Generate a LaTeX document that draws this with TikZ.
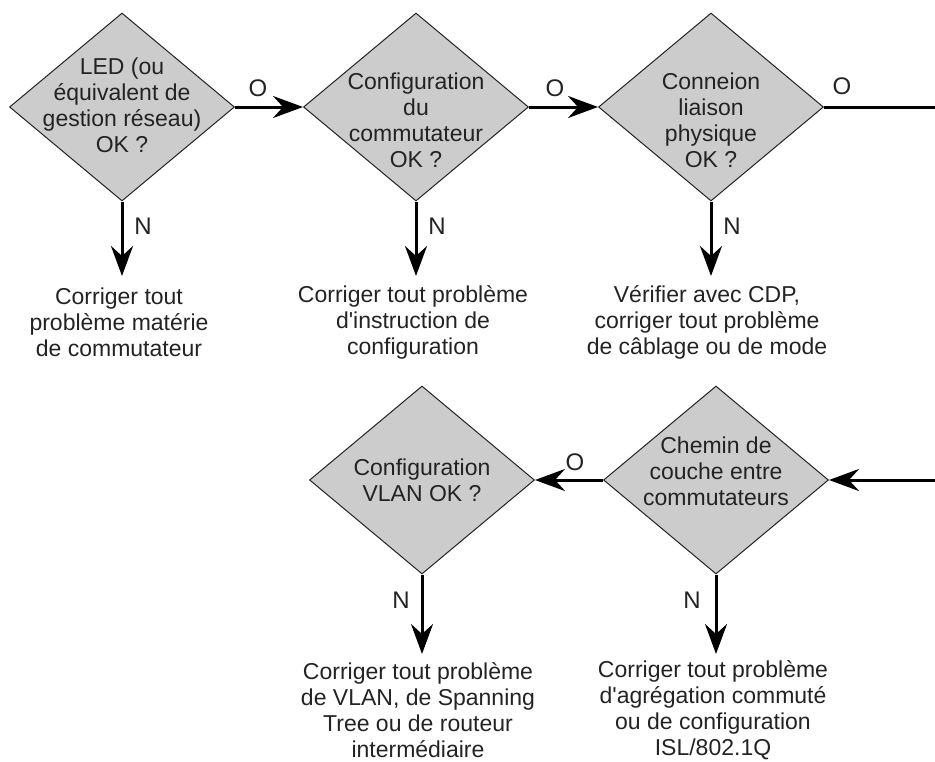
\documentclass[tikz,border=0pt]{standalone}
\usepackage{fontspec}
\setmainfont{Liberation Sans}[Ligatures=TeXOff]
\usetikzlibrary{shapes.geometric,arrows.meta}
\definecolor{dfill}{RGB}{204,204,204}
\definecolor{ink}{RGB}{35,35,35}
\begin{document}
\begin{tikzpicture}[x=1pt,y=-1pt,
  decision/.style={diamond, draw=ink, line width=1pt, fill=dfill,
    minimum width=225pt, minimum height=188pt, inner sep=0pt},
  txt/.style={font=\fontsize{23}{26}\selectfont, text=ink, align=center, inner sep=0pt},
  tag/.style={font=\fontsize{24}{26}\selectfont, text=ink, inner sep=0pt},
  flow/.style={line width=3pt, draw=black, -{Stealth[length=30pt,width=22pt,inset=10pt]}},
  plain/.style={line width=3pt, draw=black}]
\useasboundingbox (0,0) rectangle (935,761);

% decision diamonds, top row
\node[decision, label={[txt, yshift=2pt]center:LED (ou\\équivalent de\\gestion réseau)\\OK ?}] (d1) at (122,107) {};
\node[decision, label={[txt, yshift=-13pt]center:Configuration\\du\\commutateur\\OK ?}] (d2) at (416,107) {};
\node[decision, label={[txt, yshift=-13pt]center:Conneion\\liaison\\physique\\OK ?}] (d3) at (711,107) {};

% decision diamonds, bottom row
\node[decision, label={[txt]center:Configuration\\VLAN OK ?}] (d4) at (422,480) {};
\node[decision, label={[txt, yshift=9pt]center:Chemin de\\couche entre\\commutateurs}] (d5) at (716,480) {};

% corrective actions
\node[txt] (a1) at (119,322) {Corriger tout\\problème matérie\\de commutateur};
\node[txt] (a2) at (413,322) {Corriger tout problème\\d'instruction de\\configuration};
\node[txt] (a3) at (707,322) {Vérifier avec CDP,\\corriger tout problème\\de câblage ou de mode};
\node[txt] (a4) at (418,710) {Corriger tout problème\\de VLAN, de Spanning\\Tree ou de routeur\\intermédiaire};
\node[txt] (a5) at (713,710) {Corriger tout problème\\d'agrégation commuté\\ou de configuration\\ISL/802.1Q};

% arrow ends
\coordinate (n1) at (122,276);
\coordinate (n2) at (416,276);
\coordinate (n3) at (711,276);
\coordinate (n4) at (422,654);
\coordinate (n5) at (716,654);
\coordinate (edgeTop) at (935,107);
\coordinate (edgeBot) at (935,480);

% yes branches
\draw[flow] (d1.east) -- (d2.west);
\draw[flow] (d2.east) -- (d3.west);
\draw[plain] (d3.east) -- (edgeTop);
\draw[flow] (edgeBot) -- (d5.east);
\draw[flow] (d5.west) -- (d4.east);

% no branches
\draw[flow] (d1.south) -- (n1);
\draw[flow] (d2.south) -- (n2);
\draw[flow] (d3.south) -- (n3);
\draw[flow] (d4.south) -- (n4);
\draw[flow] (d5.south) -- (n5);

% branch labels
\node[tag] (o1) at (258,88) {O};
\node[tag] (o2) at (555,88) {O};
\node[tag] (o3) at (842,86) {O};
\node[tag] (o4) at (575,462) {O};
\node[tag] (y1) at (143,226) {N};
\node[tag] (y2) at (437,226) {N};
\node[tag] (y3) at (732,226) {N};
\node[tag] (y4) at (401,600) {N};
\node[tag] (y5) at (692,600) {N};
\end{tikzpicture}
\end{document}
